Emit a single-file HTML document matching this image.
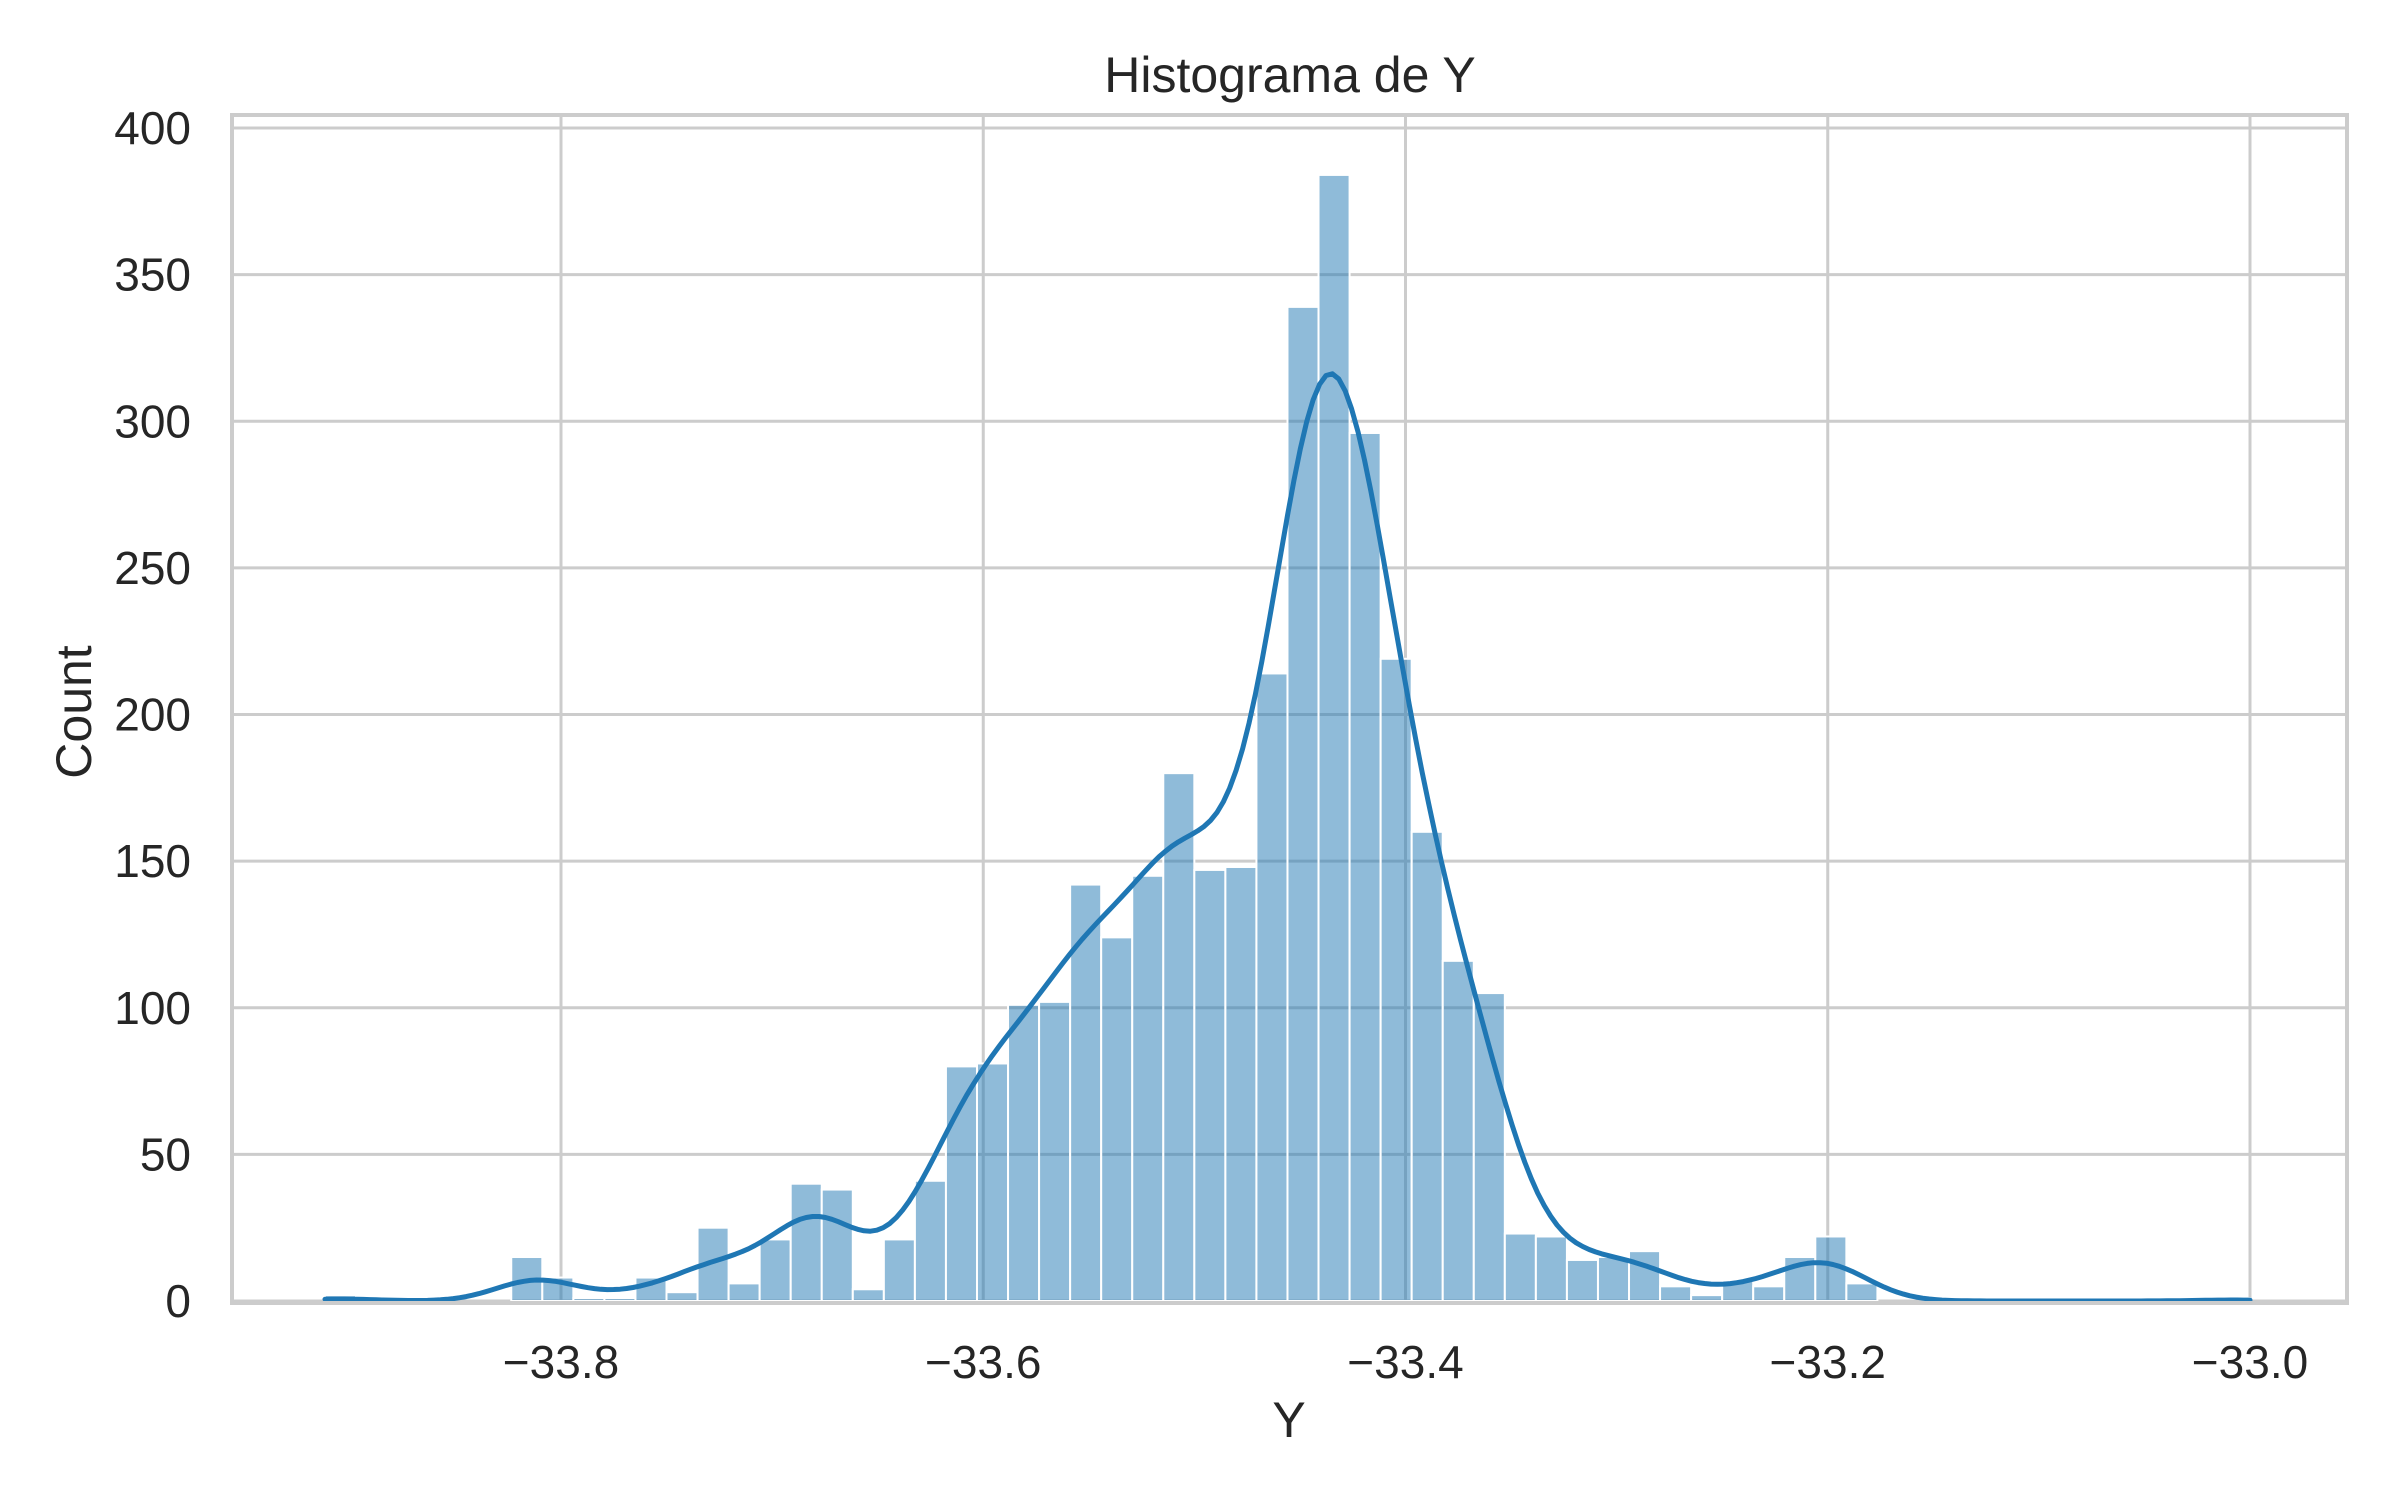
<!DOCTYPE html>
<html><head><meta charset="utf-8"><title>Histograma de Y</title>
<style>
html,body{margin:0;padding:0;background:#fff;}
svg{display:block;font-family:"Liberation Sans",Arial,sans-serif;}
</style></head>
<body>
<svg id="chart" width="2400" height="1500" viewBox="0 0 2400 1500" xmlns="http://www.w3.org/2000/svg">
<rect x="0" y="0" width="2400" height="1500" fill="#ffffff"/>
<g id="grid"></g>
<g id="bars"></g>
<g id="kde"></g>
<rect x="232" y="115" width="2115" height="1188" fill="none" stroke="#cccccc" stroke-width="4"/>
<g id="xticks"></g>
<g id="yticks"></g>
<text x="1290" y="92" font-size="50" fill="#262626" text-anchor="middle">Histograma de Y</text>
<text x="1289" y="1437" font-size="50" fill="#262626" text-anchor="middle">Y</text>
<text x="91" y="712" font-size="50" fill="#262626" text-anchor="middle" transform="rotate(-90 91 712)">Count</text>
</svg>
<script>
const binStart = -33.9118;
const binEnd = -33.0;
const counts = [2,0,0,0,0,0,15,8,1,1,8,3,25,6,21,40,38,4,21,41,80,81,101,102,142,124,145,180,147,148,214,339,384,296,219,160,116,105,23,22,14,15,17,5,2,7,5,15,22,6,0,0,0,0,0,0,0,0,0,0,0,1];
const xTicks = [-33.8,-33.6,-33.4,-33.2,-33.0];
const xTickLabels = ["\u221233.8","\u221233.6","\u221233.4","\u221233.2","\u221233.0"];
const yTicks = [0,50,100,150,200,250,300,350,400];
const yTickLabels = ["0","50","100","150","200","250","300","350","400"];
const kdeBandwidth = 0.018;

const NS = "http://www.w3.org/2000/svg";
function X(v){ return 561 + (v - (-33.8)) * (2250 - 561) / 0.8; }
function Y(c){ return 1301 - c * 2.9325; }
function mk(tag, attrs, parent){ const e = document.createElementNS(NS, tag); for (const k in attrs) e.setAttribute(k, attrs[k]); parent.appendChild(e); return e; }

const grid = document.getElementById('grid');
xTicks.forEach((t,i)=>{
  const l = mk('line',{x1:X(t),x2:X(t),y1:115,y2:1303,stroke:'#cccccc','stroke-width':3},grid);
  
  
});
yTicks.forEach((t,i)=>{
  const l = mk('line',{x1:232,x2:2347,y1:Y(t),y2:Y(t),stroke:'#cccccc','stroke-width':3},grid);
  
  
});

const bw = (binEnd - binStart) / counts.length;
const bars = document.getElementById('bars');
counts.forEach((c,i)=>{
  if (c <= 0) return;
  const x0 = X(binStart + i*bw), x1 = X(binStart + (i+1)*bw);
  const r = mk('rect',{x:x0,y:Y(c),width:x1-x0,height:Y(0)-Y(c),fill:'#1f77b4','fill-opacity':0.5,stroke:'#ffffff','stroke-width':2},bars);
  
  
});

const kde = document.getElementById('kde');
let pts = [];
const steps = 300;
for (let s=0; s<=steps; s++){
  const v = binStart + (binEnd - binStart) * s / steps;
  let d = 0;
  counts.forEach((c,i)=>{
    const m = binStart + (i+0.5)*bw;
    const z = (v - m) / kdeBandwidth;
    d += c * Math.exp(-0.5*z*z) / (kdeBandwidth * Math.sqrt(2*Math.PI));
  });
  pts.push(X(v).toFixed(1)+','+Y(d*bw).toFixed(1));
}
const path = mk('polyline',{points:pts.join(' '),fill:'none',stroke:'#1f77b4','stroke-width':5,'stroke-linejoin':'round','stroke-linecap':'round'},kde);



const xt = document.getElementById('xticks');
xTicks.forEach((t,i)=>{
  const tx = mk('text',{x:X(t),y:1378,'font-size':46,fill:'#262626','text-anchor':'middle'},xt);
  tx.textContent = xTickLabels[i];
  
  
});
const yt = document.getElementById('yticks');
yTicks.forEach((t,i)=>{
  const tx = mk('text',{x:191,y:Y(t)+16,'font-size':46,fill:'#262626','text-anchor':'end'},yt);
  tx.textContent = yTickLabels[i];
  
  
});
</script>
</body></html>
